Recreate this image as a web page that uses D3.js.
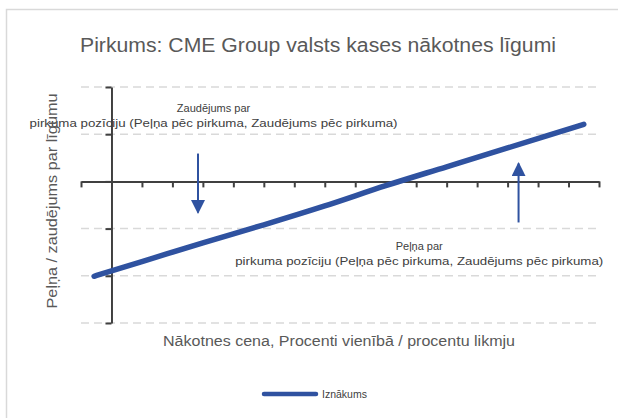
<!DOCTYPE html>
<html><head><meta charset="utf-8">
<script src="https://cdn.jsdelivr.net/npm/d3@7"></script>
<style>body{margin:0;background:#fff}svg{display:block}text{font-family:"Liberation Sans",Arial,sans-serif}</style>
</head><body>
<svg id="c" width="618" height="418"></svg>
<script>
const title = "Pirkums: CME Group valsts kases nākotnes līgumi";
const xTitle = "Nākotnes cena, Procenti vienībā / procentu likmju";
const yTitle = "Peļņa / zaudējums par līgumu";
const seriesName = "Iznākums";
const xValues = [-0.57, 1, 3, 5, 7, 9, 11, 13, 15.5];
const yValues = [-2.01, -1.70, -1.30, -0.92, -0.52, -0.09, 0.31, 0.71, 1.21];
const xTicks = d3.range(-1, 17);
const yTicks = [-3, -2, -1, 0, 1, 2];
const annotations = [
  {x: 3.35, y: 1.48, lines: ["Zaudējums par", "pirkuma pozīciju (Peļņa pēc pirkuma, Zaudējums pēc pirkuma)"]},
  {x: 10.1, y: -1.46, lines: ["Peļņa par", "pirkuma pozīciju (Peļņa pēc pirkuma, Zaudējums pēc pirkuma)"]}
];
const arrows = [
  {x: 2.84, y0: 0.59, y1: -0.66},
  {x: 13.36, y0: -0.87, y1: 0.38}
];

const svg = d3.select("#c");
const blue = "#2f52a0";
const x = d3.scaleLinear().domain([-1, 16]).range([81, 599]);
const y = d3.scaleLinear().domain([-3, 2]).range([323, 87]);

svg.append("rect").attr("x", 6.5).attr("y", 9.5).attr("width", 640).attr("height", 440)
  .attr("fill", "#fff").attr("stroke", "#d9d9d9").attr("stroke-width", 1.5);

svg.append("text").attr("x", 318).attr("y", 52).attr("text-anchor", "middle")
  .attr("font-size", 20).attr("fill", "#595959").attr("textLength", 476).attr("lengthAdjust", "spacingAndGlyphs").text(title);

// gridlines
svg.append("g").selectAll("line").data(yTicks.filter(d => d !== 0)).join("line")
  .attr("x1", x(-1)).attr("x2", x(16)).attr("y1", d => y(d)).attr("y2", d => y(d))
  .attr("stroke", "#d9d9d9").attr("stroke-width", 1.5).attr("stroke-dasharray", "8,5");

// x axis at y=0
const xa = svg.append("g").attr("transform", `translate(0,${y(0)})`)
  .call(d3.axisBottom(x).tickValues(xTicks).tickSize(6).tickFormat("").tickSizeOuter(0));
xa.select(".domain").attr("stroke", "#404040").attr("stroke-width", 2);
xa.selectAll(".tick line").attr("stroke", "#404040").attr("stroke-width", 2);

// y axis at x=0
const ya = svg.append("g").attr("transform", `translate(${x(0)},0)`)
  .call(d3.axisLeft(y).tickValues(yTicks).tickSize(6).tickFormat("").tickSizeOuter(0));
ya.select(".domain").attr("stroke", "#404040").attr("stroke-width", 2);
ya.selectAll(".tick line").attr("stroke", "#404040").attr("stroke-width", 2);

// line
const pts = xValues.map((v, i) => [v, yValues[i]]);
svg.append("path").datum(pts)
  .attr("d", d3.line().x(d => x(d[0])).y(d => y(d[1])).curve(d3.curveMonotoneX))
  .attr("fill", "none").attr("stroke", blue).attr("stroke-width", 5.5).attr("stroke-linecap", "round");

// arrows
const defs = svg.append("defs");
defs.append("marker").attr("id", "ah").attr("viewBox", "0 0 10 10").attr("refX", 9).attr("refY", 5)
  .attr("markerWidth", 7).attr("markerHeight", 7).attr("markerUnits", "strokeWidth").attr("orient", "auto")
  .append("path").attr("d", "M0,0L10,5L0,10Z").attr("fill", blue);
svg.append("g").selectAll("line").data(arrows).join("line")
  .attr("x1", d => x(d.x)).attr("x2", d => x(d.x)).attr("y1", d => y(d.y0)).attr("y2", d => y(d.y1))
  .attr("stroke", blue).attr("stroke-width", 2).attr("marker-end", "url(#ah)");

// annotations
annotations.forEach(a => {
  const t = svg.append("text").attr("text-anchor", "middle").attr("font-size", 11).attr("fill", "#404040");
  t.append("tspan").attr("x", x(a.x)).attr("y", y(a.y)).text(a.lines[0]);
  t.append("tspan").attr("x", x(a.x)).attr("y", y(a.y) + 15).attr("textLength", 368).attr("lengthAdjust", "spacingAndGlyphs").text(a.lines[1]);
});

// axis titles
svg.append("text").attr("x", 339).attr("y", 346).attr("text-anchor", "middle")
  .attr("font-size", 15.5).attr("fill", "#595959").attr("textLength", 352).attr("lengthAdjust", "spacingAndGlyphs").text(xTitle);
svg.append("text").attr("transform", "translate(57,201) rotate(-90)").attr("text-anchor", "middle")
  .attr("font-size", 15.5).attr("fill", "#595959").attr("textLength", 215).attr("lengthAdjust", "spacingAndGlyphs").text(yTitle);

// legend
svg.append("line").attr("x1", 264).attr("x2", 316).attr("y1", 394).attr("y2", 394)
  .attr("stroke", blue).attr("stroke-width", 4.5).attr("stroke-linecap", "round");
svg.append("text").attr("x", 322).attr("y", 398).attr("font-size", 10.5).attr("fill", "#404040").text(seriesName);
</script>
</body></html>
